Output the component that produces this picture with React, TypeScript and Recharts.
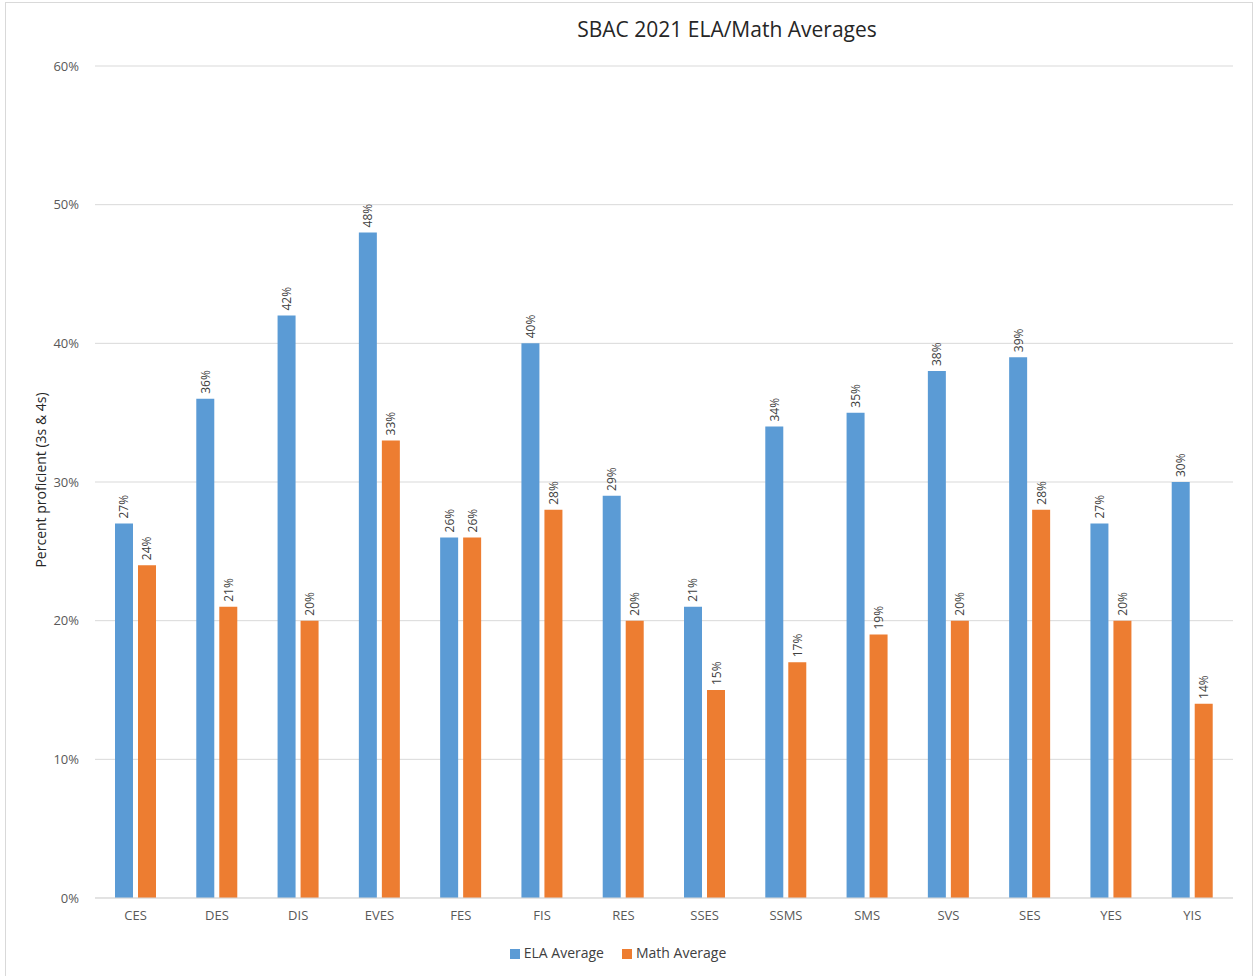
import React from "react";
import {
  BarChart,
  Bar,
  XAxis,
  YAxis,
  CartesianGrid,
  Legend,
  LabelList,
} from "recharts";

const schools = [
  "CES", "DES", "DIS", "EVES", "FES", "FIS", "RES",
  "SSES", "SSMS", "SMS", "SVS", "SES", "YES", "YIS",
];
const elaAverage = [27, 36, 42, 48, 26, 40, 29, 21, 34, 35, 38, 39, 27, 30];
const mathAverage = [24, 21, 20, 33, 26, 28, 20, 15, 17, 19, 20, 28, 20, 14];
const yTicks = [0, 10, 20, 30, 40, 50, 60];

const rows = schools.map((name, i) => ({
  name,
  ela: elaAverage[i],
  math: mathAverage[i],
}));

const font = "'Open Sans', 'Noto Sans', sans-serif";

const VerticalLabel = (props: any) => {
  const { x, y, width, value } = props;
  const cx = x + width / 2;
  const cy = y - 5;
  return (
    <text
      x={cx}
      y={cy}
      transform={`rotate(-90, ${cx}, ${cy})`}
      textAnchor="start"
      dominantBaseline="central"
      fontSize={12}
      fontFamily={font}
      fill="#404040"
    >
      {value}%
    </text>
  );
};

const App: React.FC = () => {
  return (
    <div
      style={{
        position: "absolute",
        left: 0,
        top: 0,
        width: 1254,
        height: 976,
        background: "#fff",
        fontFamily: font,
      }}
    >
      <div
        style={{
          position: "absolute",
          left: 5,
          top: 2,
          width: 1246,
          height: 980,
          border: "1px solid #d9d9d9",
        }}
      />
      <div
        style={{
          position: "absolute",
          left: 727,
          top: 15,
          transform: "translateX(-50%)",
          fontSize: 21,
          color: "#262626",
          whiteSpace: "nowrap",
        }}
      >
        SBAC 2021 ELA/Math Averages
      </div>
      <div
        style={{
          position: "absolute",
          left: 40,
          top: 480,
          transform: "translate(-50%, -50%) rotate(-90deg)",
          fontSize: 14,
          color: "#262626",
          whiteSpace: "nowrap",
        }}
      >
        Percent proficient (3s &amp; 4s)
      </div>
      <BarChart
        width={1254}
        height={976}
        data={rows}
        margin={{ top: 66, right: 21, bottom: 29, left: 35 }}
        barGap={5}
        style={{ position: "absolute", left: 0, top: 0 }}
      >
        <CartesianGrid vertical={false} stroke="#d9d9d9" />
        <XAxis
          dataKey="name"
          height={30}
          tickLine={false}
          axisLine={{ stroke: "#d9d9d9" }}
          tickSize={0}
          tickMargin={13}
          tick={{ fontSize: 13, fill: "#595959", fontFamily: font }}
          interval={0}
        />
        <YAxis
          width={60}
          domain={[0, 60]}
          ticks={yTicks}
          tickFormatter={(v: number) => `${v}%`}
          tickLine={false}
          axisLine={false}
          tickSize={0}
          tickMargin={16}
          tick={{ fontSize: 13, fill: "#595959", fontFamily: font }}
        />
        <Legend
          verticalAlign="bottom"
          align="center"
          iconType="square"
          iconSize={10}
          wrapperStyle={{ bottom: 14, left: 0, width: 1254, fontSize: 14 }}
          formatter={(v: string) => <span style={{ color: "#404040", marginRight: 8 }}>{v}</span>}
        />
        <Bar
          dataKey="ela"
          name="ELA Average"
          fill="#5b9bd5"
          barSize={18}
          isAnimationActive={false}
        >
          <LabelList dataKey="ela" content={VerticalLabel} />
        </Bar>
        <Bar
          dataKey="math"
          name="Math Average"
          fill="#ed7d31"
          barSize={18}
          isAnimationActive={false}
        >
          <LabelList dataKey="math" content={VerticalLabel} />
        </Bar>
      </BarChart>
    </div>
  );
};

export default App;
